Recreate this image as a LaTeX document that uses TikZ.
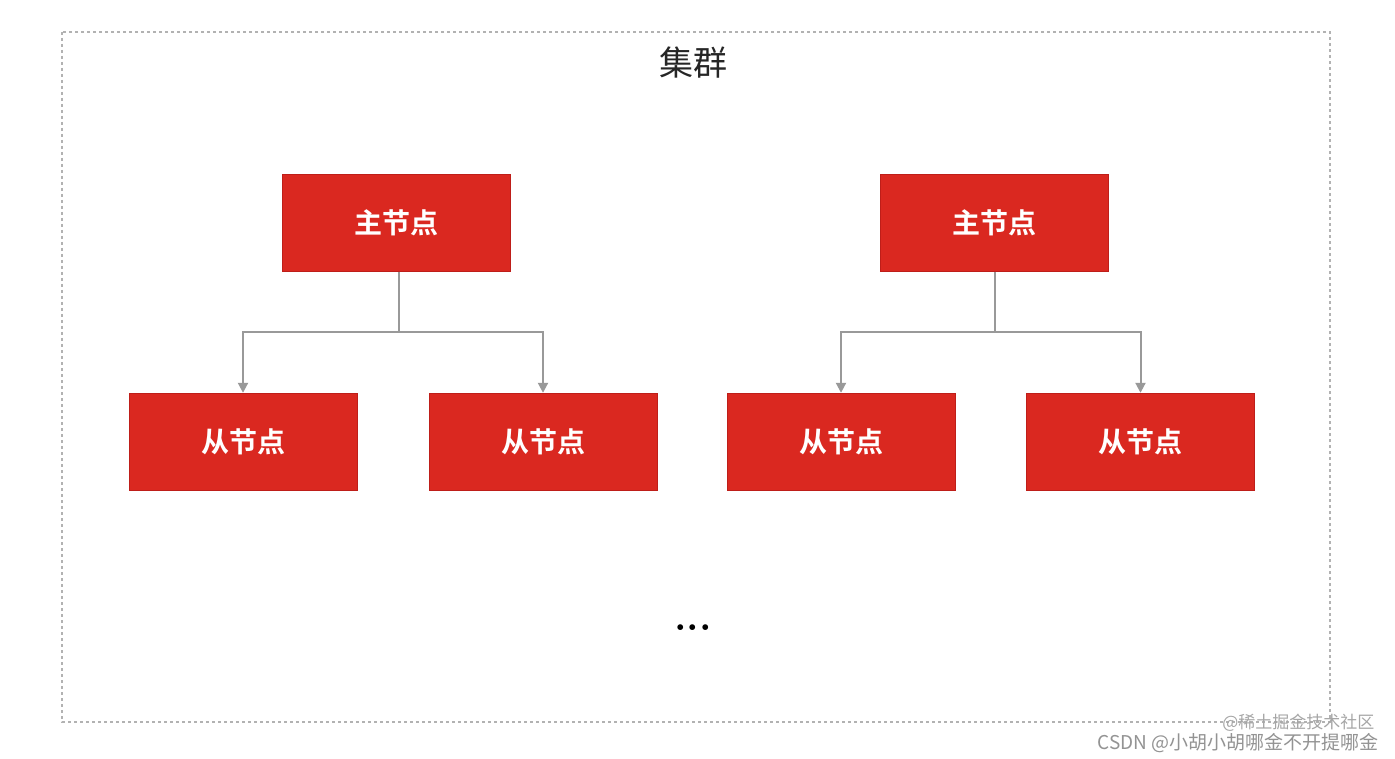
\documentclass[tikz,border=0pt]{standalone}
\usepackage{fontspec}
\newfontfamily\cjk{Noto Sans CJK SC}
\newfontfamily\cjkb{Noto Sans CJK SC Bold}
\usetikzlibrary{arrows.meta}
\definecolor{boxred}{RGB}{218,40,32}
\definecolor{boxedge}{RGB}{190,30,25}
\begin{document}
\begin{tikzpicture}[x=1pt,y=-1pt,
  box/.style={fill=boxred, draw=boxedge, minimum width=228pt, minimum height=97pt, inner sep=0pt, text=white, font=\cjkb\fontsize{28}{30}\selectfont},
  conn/.style={draw=gray!80, line width=2pt, -{Triangle[length=10pt,width=10pt]}}]
\useasboundingbox (0,0) rectangle (1395,759);
\fill[white] (0,0) rectangle (1395,759);
\draw[gray!60, dashed, line width=1.5pt] (62,32) rectangle (1330,722);
\node[font=\cjk\fontsize{34}{36}\selectfont, text=black!85] (title) at (693,63) {集群};
\node[box] (m1) at (396.5,223) {主节点};
\node[box] (m2) at (994.5,223) {主节点};
\node[box] (s1) at (243,441.5) {从节点};
\node[box] (s2) at (543,441.5) {从节点};
\node[box] (s3) at (841,441.5) {从节点};
\node[box] (s4) at (1140.5,441.5) {从节点};
\coordinate (b1) at (399,332);
\coordinate (b2) at (995,332);
\draw[gray!80, line width=2.5pt] (m1.south -| b1) -- (b1);
\draw[gray!80, line width=2.5pt] (m2.south -| b2) -- (b2);
\draw[conn] (b1) -| (s1.north);
\draw[conn] (b1) -| (s2.north);
\draw[conn] (b2) -| (s3.north);
\draw[conn] (b2) -| (s4.north);
\node[font=\fontsize{40}{40}\selectfont\bfseries] (dots) at (693,628) {...};
\node[font=\cjk\fontsize{17}{18}\selectfont, text=gray!70, anchor=east] (wm1) at (1378,723) {@稀土掘金技术社区};
\node[font=\cjk\fontsize{19}{20}\selectfont, text=gray!85, anchor=east] (wm2) at (1382,743) {CSDN @小胡小胡哪金不开提哪金};
\end{tikzpicture}
\end{document}
